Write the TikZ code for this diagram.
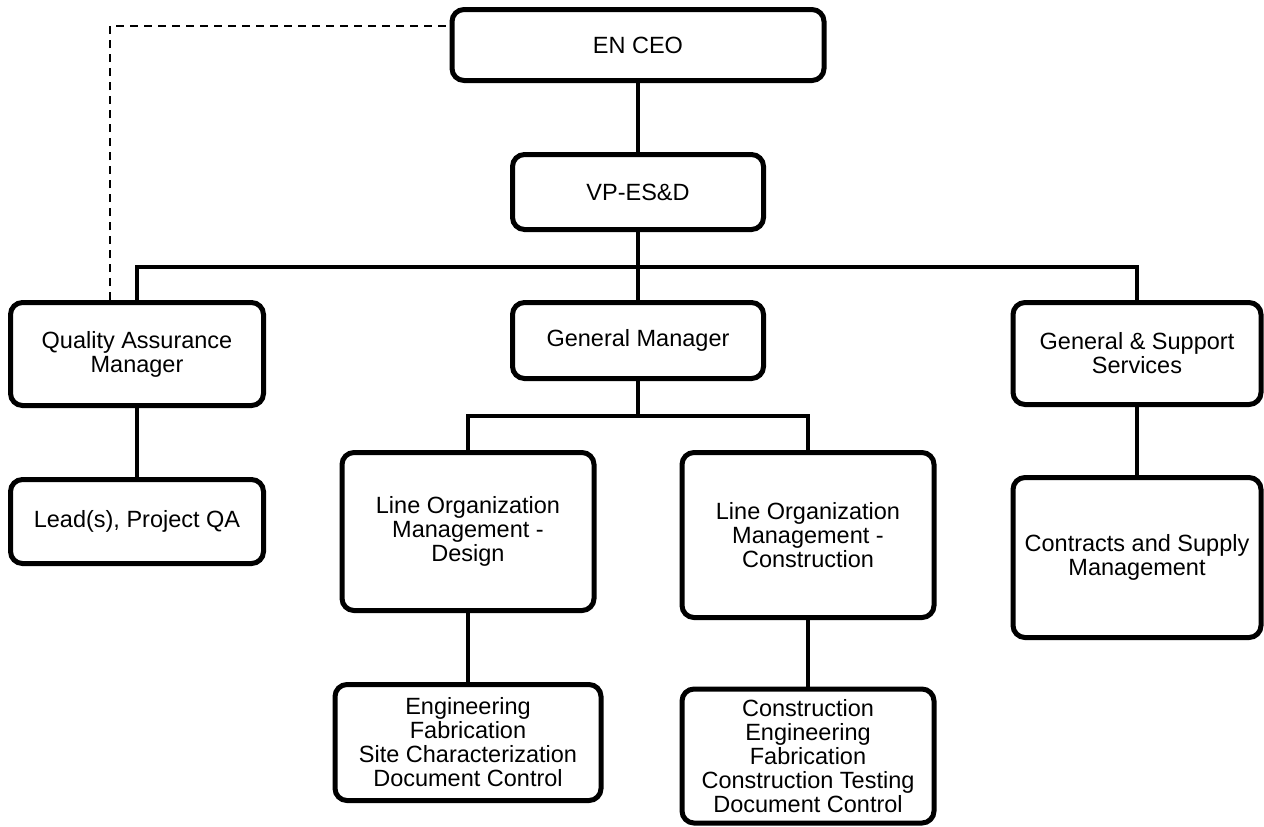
\documentclass[tikz,border=0pt]{standalone}
\usepackage{fontspec}
\setmainfont{Liberation Sans}
\usepackage{tikz}

\begin{document}
\begin{tikzpicture}[x=1pt,y=-1pt,
    box/.style={draw, line width=5pt, rounded corners=12pt, align=center,
                inner sep=0pt, font=\fontsize{23.5}{24}\selectfont},
    link/.style={line width=4.2pt},
    dashlink/.style={line width=1.6pt, dash pattern=on 8pt off 6pt}]
            \useasboundingbox (0,0) rectangle (1264,827);

            % Nodes
            \node[box, minimum width=372pt, minimum height=71pt] (ceo) at (638,45) {EN CEO};
            \node[box, minimum width=251pt, minimum height=75pt] (vp) at (638,192) {VP-ES\&D};
            \node[box, minimum width=253pt, minimum height=103pt] (qa) at (137,354) {Quality Assurance\\Manager};
            \node[box, minimum width=251pt, minimum height=76pt] (gm) at (638,340.5) {General Manager};
            \node[box, minimum width=248pt, minimum height=102pt] (gss) at (1137,353.5) {General \& Support\\Services};
            \node[box, minimum width=253pt, minimum height=84pt] (lead) at (137,521.5) {Lead(s), Project QA};
            \node[box, minimum width=252pt, minimum height=158pt] (lomd) at (468,531.5) {Line Organization\\Management -\\Design};
            \node[box, minimum width=252pt, minimum height=165pt] (lomc) at (808,535) {Line Organization\\Management -\\Construction};
            \node[box, minimum width=248pt, minimum height=160pt] (csm) at (1137,557.5) {Contracts and Supply\\Management};
            \node[box, minimum width=266pt, minimum height=116pt] (eng) at (468,742.5) {Engineering\\Fabrication\\Site Characterization\\Document Control};
            \node[box, minimum width=252pt, minimum height=134pt] (con) at (808,756) {Construction\\Engineering\\Fabrication\\Construction Testing\\Document Control};

            % Edges
            \coordinate (bus) at (638,267);
            \coordinate (bus2) at (638,416);
            \coordinate (dashcorner) at (110,26);
            \draw[link] (ceo) -- (vp);
            \draw[link] (vp) -- (gm);
            \draw[link] (qa.north) |- (bus) -| (gss.north);
            \draw[link] (gm) -- (bus2);
            \draw[link] (lomd.north) |- (bus2) -| (lomc.north);
            \draw[link] (qa) -- (lead);
            \draw[link] (lomd) -- (eng);
            \draw[link] (lomc) -- (con);
            \draw[link] (gss) -- (csm);
            \draw[dashlink] (qa.north -| dashcorner) |- (ceo.west |- dashcorner);
        \end{tikzpicture}
\end{document}
